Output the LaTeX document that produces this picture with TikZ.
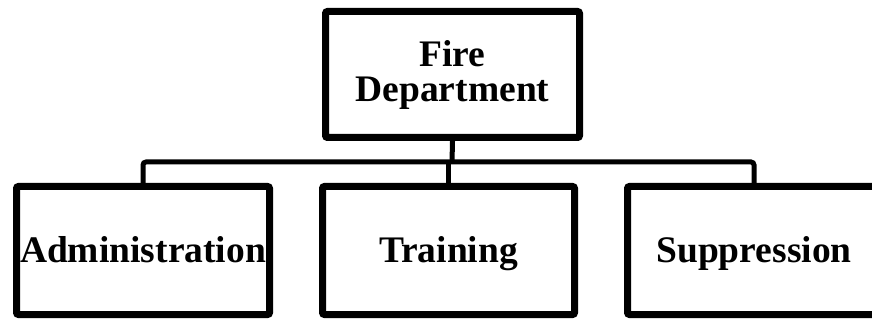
\documentclass[tikz,border=0pt]{standalone}
\usepackage{fontspec}
\setmainfont{Liberation Serif}
\usetikzlibrary{positioning,calc,shadows}

\begin{document}
\begin{tikzpicture}[x=1pt,y=-1pt,font=\fontsize{37.5}{35}\selectfont\bfseries]
\tikzstyle{unit}=[draw,line width=7pt,rounded corners=2pt,fill=white,minimum width=253pt,minimum height=128pt,inner sep=0pt,align=center,drop shadow={opacity=0.18,shadow xshift=1.5pt,shadow yshift=-1.5pt}]
\tikzstyle{sub}=[unit,text height=26pt,text depth=3pt]
\tikzstyle{link}=[line width=5pt,rounded corners=3pt]
\useasboundingbox (0,0) rectangle (872,320);
\node[unit,minimum width=254pt,minimum height=126pt] (fire) at (452.5,74.5) {Fire\\Department};
\node[sub] (admin) at (143,250.5) {Administration};
\node[sub,minimum width=252pt] (train) at (448.5,250.5) {Training};
\node[sub] (supp) at (754,250.5) {Suppression};
\coordinate (bus) at (452,162);
\draw[link] (fire.south) -- (bus);
\draw[link] (admin.north) |- (bus) -| (supp.north);
\draw[link] (train.north) -- (train.north |- bus);
\end{tikzpicture}
\end{document}
